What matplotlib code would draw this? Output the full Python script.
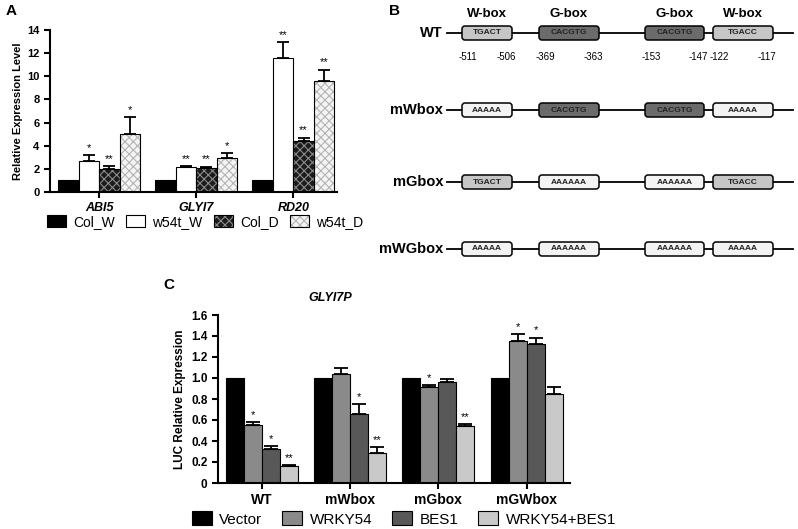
import numpy as np
import matplotlib.pyplot as plt
from matplotlib.patches import Patch, FancyBboxPatch

plt.rcParams['font.family'] = ['Liberation Sans', 'DejaVu Sans']
plt.rcParams['hatch.linewidth'] = 0.8

# ---- panel A: qRT-PCR ----
genes = ['ABI5', 'GLYI7', 'RD20']
lines_a = ['Col_W', 'w54t_W', 'Col_D', 'w54t_D']
col_w = [1.0, 1.0, 1.0]
w54t_w = [2.7, 2.15, 11.55]
col_d = [2.0, 2.07, 4.4]
w54t_d = [5.05, 2.93, 9.58]
col_w_err = [0.0, 0.0, 0.0]
w54t_w_err = [0.48, 0.12, 1.38]
col_d_err = [0.22, 0.12, 0.3]
w54t_d_err = [1.4, 0.42, 1.0]
col_w_sig = ['', '', '']
w54t_w_sig = ['*', '**', '**']
col_d_sig = ['**', '**', '**']
w54t_d_sig = ['*', '*', '**']

# ---- panel B: promoter constructs ----
constructs = ['WT', 'mWbox', 'mGbox', 'mWGbox']
site_names = ['W-box', 'G-box', 'G-box', 'W-box']
site_seqs = ['TGACT', 'CACGTG', 'CACGTG', 'TGACC']
mut_seqs = ['AAAAA', 'AAAAAA', 'AAAAAA', 'AAAAA']
site_start = [-511, -369, -153, -122]
site_end = [-506, -363, -147, -117]
mutated = [[0, 0, 0, 0], [1, 0, 0, 1], [0, 1, 1, 0], [1, 1, 1, 1]]

# ---- panel C: LUC assay ----
promoters = ['WT', 'mWbox', 'mGbox', 'mGWbox']
effectors = ['Vector', 'WRKY54', 'BES1', 'WRKY54+BES1']
vector = [1.0, 1.0, 1.0, 1.0]
wrky54 = [0.555, 1.04, 0.91, 1.35]
bes1 = [0.32, 0.66, 0.96, 1.32]
wrky54_bes1 = [0.16, 0.285, 0.545, 0.85]
vector_err = [0.0, 0.0, 0.0, 0.0]
wrky54_err = [0.025, 0.06, 0.025, 0.07]
bes1_err = [0.03, 0.095, 0.035, 0.065]
wrky54_bes1_err = [0.01, 0.055, 0.015, 0.065]
vector_sig = ['', '', '', '']
wrky54_sig = ['*', '', '*', '*']
bes1_sig = ['*', '*', '', '*']
wrky54_bes1_sig = ['**', '**', '**', '']

W, H = 798, 529
fig = plt.figure(figsize=(W / 100, H / 100), dpi=100)


def frac(l, t, r, b):
    return [l / W, 1 - b / H, (r - l) / W, (b - t) / H]


def style_axes(ax, fs):
    for s in ['top', 'right']:
        ax.spines[s].set_visible(False)
    for s in ['left', 'bottom']:
        ax.spines[s].set_linewidth(1.5)
    ax.tick_params(width=1.5, length=4, labelsize=fs)
    for lab in ax.get_yticklabels():
        lab.set_fontweight('bold')


def draw_bars(ax, x, vals, errs, sigs, width, face, hatch=None, hcol=None, cap=4):
    if hatch:
        ax.bar(x, vals, width, color=face, edgecolor=hcol, hatch=hatch, linewidth=0)
        ax.bar(x, vals, width, fill=False, edgecolor='black', linewidth=0.8)
    else:
        ax.bar(x, vals, width, color=face, edgecolor='black', linewidth=0.8)
    vals = np.array(vals)
    errs = np.array(errs)
    m = errs > 0
    if m.any():
        ax.errorbar(x[m], vals[m], yerr=[np.zeros(m.sum()), errs[m]], fmt='none',
                    ecolor='black', elinewidth=1.3, capsize=cap, capthick=1.3)
    for xi, v, e, s in zip(x, vals, errs, sigs):
        if s:
            ax.annotate(s, (xi, v + e), xytext=(0, 1.5), textcoords='offset points',
                        ha='center', va='bottom', fontsize=8)


# panel A
axa = fig.add_axes(frac(50, 30, 337, 192))
xa = np.arange(len(genes))
wa = 0.211
a_series = [
    (col_w, col_w_err, col_w_sig, dict(face='black')),
    (w54t_w, w54t_w_err, w54t_w_sig, dict(face='white')),
    (col_d, col_d_err, col_d_sig, dict(face='#1c1c1c', hatch='xxxx', hcol='#8c8c8c')),
    (w54t_d, w54t_d_err, w54t_d_sig, dict(face='#f4f4f4', hatch='xxxx', hcol='#b4b4b4')),
]
handles_a = []
for i, (v, e, s, st) in enumerate(a_series):
    draw_bars(axa, xa + (i - 1.5) * wa, v, e, s, wa, cap=4.5, **st)
    if 'hatch' in st:
        h = (Patch(facecolor=st['face'], edgecolor=st['hcol'], hatch=st['hatch'], linewidth=0),
             Patch(fill=False, edgecolor='black', linewidth=0.8))
    else:
        h = Patch(facecolor=st['face'], edgecolor='black', linewidth=0.8)
    handles_a.append(h)
axa.set_xlim(-0.505, 2.45)
axa.set_ylim(0, 14)
axa.set_yticks(np.arange(0, 15, 2))
axa.set_xticks(xa)
axa.set_xticklabels(genes, fontsize=9, fontweight='bold', fontstyle='italic')
axa.set_ylabel('Relative Expression Level', fontsize=8, fontweight='bold', labelpad=3)
style_axes(axa, 8)
axa.set_xticklabels(genes, fontsize=9, fontweight='bold', fontstyle='italic')
fig.legend(handles_a, lines_a, loc='center', bbox_to_anchor=(205 / W, 1 - 222 / H), ncol=4,
           frameon=False, fontsize=10, handlelength=1.4, handleheight=1.0,
           handletextpad=0.5, columnspacing=0.8, borderpad=0)

# panel B
axb = fig.add_axes(frac(380, 0, 798, 270))
axb.set_xlim(380, 798)
axb.set_ylim(270, 0)
axb.axis('off')
row_y = [33, 110, 182, 249]
box_l = [462, 539, 645, 713]
box_r = [512, 599, 704, 773]
site_cols = {'W-box': '#c6c6c6', 'G-box': '#6b6b6b'}
for name, y, muts in zip(constructs, row_y, mutated):
    axb.plot([447, 793], [y, y], color='black', lw=1.3, zorder=1)
    axb.text(443, y, name, ha='right', va='center', fontsize=10.5, fontweight='bold')
    for k in range(4):
        fc = '#f3f3f3' if muts[k] else site_cols[site_names[k]]
        seq = mut_seqs[k] if muts[k] else site_seqs[k]
        axb.add_patch(FancyBboxPatch((box_l[k], y - 7), box_r[k] - box_l[k], 14,
                                     boxstyle='round,pad=0,rounding_size=3',
                                     facecolor=fc, edgecolor='black', linewidth=1.1, zorder=2))
        axb.text((box_l[k] + box_r[k]) / 2, y, seq, ha='center', va='center',
                 fontsize=6, fontweight='bold', color='#222222', zorder=3)
for k in range(4):
    axb.text((box_l[k] + box_r[k]) / 2, 14, site_names[k], ha='center', va='center',
             fontsize=9.5, fontweight='bold')
    axb.text(box_l[k] + 6, 57, str(site_start[k]), ha='center', va='center', fontsize=7)
    axb.text(box_r[k] - 6, 57, str(site_end[k]), ha='center', va='center', fontsize=7)

# panel C
axc = fig.add_axes(frac(218, 315, 570, 483))
xc = np.arange(len(promoters))
wc = 0.204
c_series = [
    (vector, vector_err, vector_sig, 'black'),
    (wrky54, wrky54_err, wrky54_sig, '#8a8a8a'),
    (bes1, bes1_err, bes1_sig, '#585858'),
    (wrky54_bes1, wrky54_bes1_err, wrky54_bes1_sig, '#c9c9c9'),
]
handles_c = []
for i, (v, e, s, fc) in enumerate(c_series):
    draw_bars(axc, xc + (i - 1.5) * wc, v, e, s, wc, fc, cap=5)
    handles_c.append(Patch(facecolor=fc, edgecolor='black', linewidth=0.8))
axc.set_xlim(-0.494, 3.49)
axc.set_ylim(0, 1.6)
axc.set_yticks(np.arange(0, 1.61, 0.2))
axc.set_yticklabels(['0'] + ['%.1f' % t for t in np.arange(0.2, 1.61, 0.2)])
axc.set_xticks(xc)
style_axes(axc, 8.5)
axc.set_xticklabels(promoters, fontsize=10, fontweight='bold')
axc.set_ylabel('LUC Relative Expression', fontsize=8.5, fontweight='bold', labelpad=4)
fig.text(330 / W, 1 - 298 / H, 'GLYI7P', ha='center', va='center', fontsize=9,
         fontweight='bold', fontstyle='italic')
fig.legend(handles_c, effectors, loc='center', bbox_to_anchor=(404 / W, 1 - 519 / H), ncol=4,
           frameon=False, fontsize=11, handlelength=1.3, handleheight=1.0,
           handletextpad=0.5, columnspacing=1.3, borderpad=0)

# panel letters
fig.text(11 / W, 1 - 11 / H, 'A', ha='center', va='center', fontsize=11, fontweight='bold')
fig.text(394 / W, 1 - 11 / H, 'B', ha='center', va='center', fontsize=11, fontweight='bold')
fig.text(169 / W, 1 - 285 / H, 'C', ha='center', va='center', fontsize=11, fontweight='bold')

fig.savefig('out.png', dpi=100)
